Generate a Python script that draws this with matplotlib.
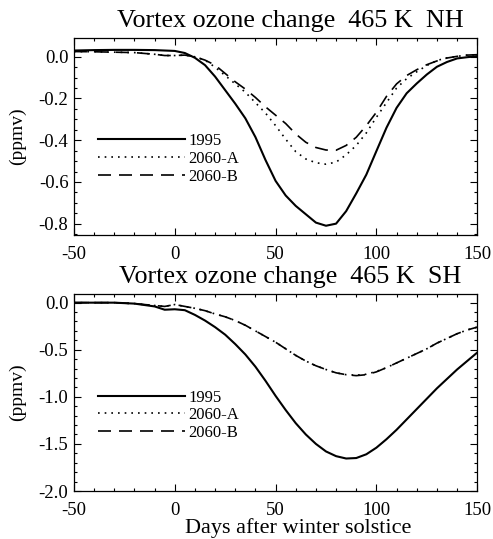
import numpy as np
import matplotlib
matplotlib.use("Agg")
import matplotlib.pyplot as plt

# Vortex ozone change at 465 K (ppmv)
days = [-50, -40, -30, -20, -10, -5, 0, 5, 10, 15, 20, 25, 30, 35, 40, 45,
        50, 55, 60, 65, 70, 75, 80, 85, 90, 95, 100, 105, 110, 115, 120,
        125, 130, 135, 140, 145, 150]

nh_1995 = [0.030, 0.032, 0.033, 0.033, 0.032, 0.030, 0.028, 0.018, -0.005,
           -0.04, -0.095, -0.16, -0.225, -0.295, -0.385, -0.495, -0.595, -0.665,
           -0.715, -0.755, -0.795, -0.81, -0.80, -0.74, -0.655, -0.565, -0.452,
           -0.34, -0.245, -0.175, -0.128, -0.085, -0.048, -0.025, -0.008,
           -0.002, 0.003]
nh_2060a = [0.025, 0.024, 0.022, 0.020, 0.012, 0.006, 0.006, 0.008, 0.0,
            -0.016, -0.05, -0.09, -0.13, -0.17, -0.22, -0.27, -0.33, -0.395,
            -0.455, -0.49, -0.508, -0.515, -0.505, -0.47, -0.425, -0.365,
            -0.29, -0.22, -0.15, -0.105, -0.072, -0.042, -0.018, -0.005,
            0.002, 0.008, 0.01]
nh_2060b = [0.025, 0.024, 0.022, 0.020, 0.012, 0.006, 0.006, 0.008, 0.0,
            -0.016, -0.04, -0.08, -0.12, -0.155, -0.195, -0.24, -0.28, -0.32,
            -0.37, -0.41, -0.435, -0.447, -0.448, -0.425, -0.386, -0.33,
            -0.266, -0.19, -0.13, -0.09, -0.062, -0.038, -0.02, -0.006,
            0.002, 0.008, 0.01]

sh_1995 = [0.0, 0.0, 0.0, -0.01, -0.04, -0.075, -0.07, -0.08, -0.13, -0.19,
           -0.26, -0.34, -0.44, -0.55, -0.68, -0.83, -0.99, -1.14, -1.28,
           -1.40, -1.50, -1.58, -1.63, -1.655, -1.65, -1.61, -1.54, -1.45,
           -1.35, -1.24, -1.13, -1.02, -0.91, -0.81, -0.71, -0.62, -0.53]
sh_2060a = [0.0, 0.0, 0.0, -0.01, -0.03, -0.04, -0.02, -0.04, -0.06, -0.085,
            -0.12, -0.15, -0.19, -0.24, -0.30, -0.36, -0.42, -0.49, -0.56,
            -0.62, -0.67, -0.71, -0.745, -0.765, -0.77, -0.76, -0.73, -0.69,
            -0.64, -0.59, -0.54, -0.49, -0.43, -0.38, -0.33, -0.29, -0.26]
sh_2060b = [0.0, 0.0, 0.0, -0.01, -0.03, -0.04, -0.02, -0.04, -0.06, -0.085,
            -0.12, -0.15, -0.19, -0.24, -0.30, -0.36, -0.42, -0.49, -0.56,
            -0.62, -0.67, -0.71, -0.745, -0.765, -0.775, -0.765, -0.735, -0.69,
            -0.64, -0.59, -0.54, -0.49, -0.43, -0.38, -0.33, -0.29, -0.26]

labels = ["1995", "2060-A", "2060-B"]

plt.rcParams['font.family'] = ['Liberation Serif', 'DejaVu Serif']
plt.rcParams['axes.unicode_minus'] = False

fig = plt.figure(figsize=(4.93, 5.39), dpi=100)
ax1 = fig.add_axes([0.150, 1 - 234.5 / 539, 0.818, 196.5 / 539])
ax2 = fig.add_axes([0.150, 1 - 491 / 539, 0.818, 197 / 539])


def draw_panel(ax, y1, y2, y3, title, ylim, major, minor):
    ax.plot(days, y1, color='black', lw=1.5, label=labels[0])
    ax.plot(days, y2, color='black', lw=1.2, linestyle=(0, (1, 3)), label=labels[1])
    ax.plot(days, y3, color='black', lw=1.2, linestyle=(0, (7.8, 4.8)), label=labels[2])
    ax.set_xlim(-50, 150)
    ax.set_ylim(*ylim)
    ax.set_xticks(np.arange(-50, 151, 50))
    ax.set_xticks(np.arange(-50, 151, 10), minor=True)
    ax.set_yticks(np.arange(0, ylim[0] - 1e-9, -major))
    ax.set_yticks(np.arange(0, ylim[0] - 1e-9, -minor), minor=True)
    ax.yaxis.set_major_formatter(matplotlib.ticker.FormatStrFormatter('%.1f'))
    ax.tick_params(which='both', direction='in', top=True, right=True,
                   labelsize=13.5, width=0.8)
    ax.tick_params(which='major', length=5)
    ax.tick_params(which='minor', length=2.5)
    ax.tick_params(axis='x', which='major', pad=8)
    ax.tick_params(axis='y', which='major', pad=4)
    ax.set_title(title, fontsize=18.8, pad=8, x=0.537)
    ax.set_ylabel('(ppmv)', fontsize=14)
    ax.yaxis.set_label_coords(-0.119, 0.5)
    for sp in ax.spines.values():
        sp.set_linewidth(0.9)
    ax.legend(loc='upper left', bbox_to_anchor=(0.06, 0.515), frameon=False,
              fontsize=12, handlelength=5.2, handletextpad=0.2,
              labelspacing=0.1, borderpad=0, borderaxespad=0)


draw_panel(ax1, nh_1995, nh_2060a, nh_2060b,
           'Vortex ozone change  465 K  NH', (-0.852, 0.09), 0.2, 0.05)
draw_panel(ax2, sh_1995, sh_2060a, sh_2060b,
           'Vortex ozone change  465 K  SH', (-2.0, 0.092), 0.5, 0.1)
ax2.set_xlabel('Days after winter solstice', fontsize=16, va='center')
ax2.xaxis.set_label_coords(0.557, -0.188)

fig.savefig('out.png', dpi=100)
